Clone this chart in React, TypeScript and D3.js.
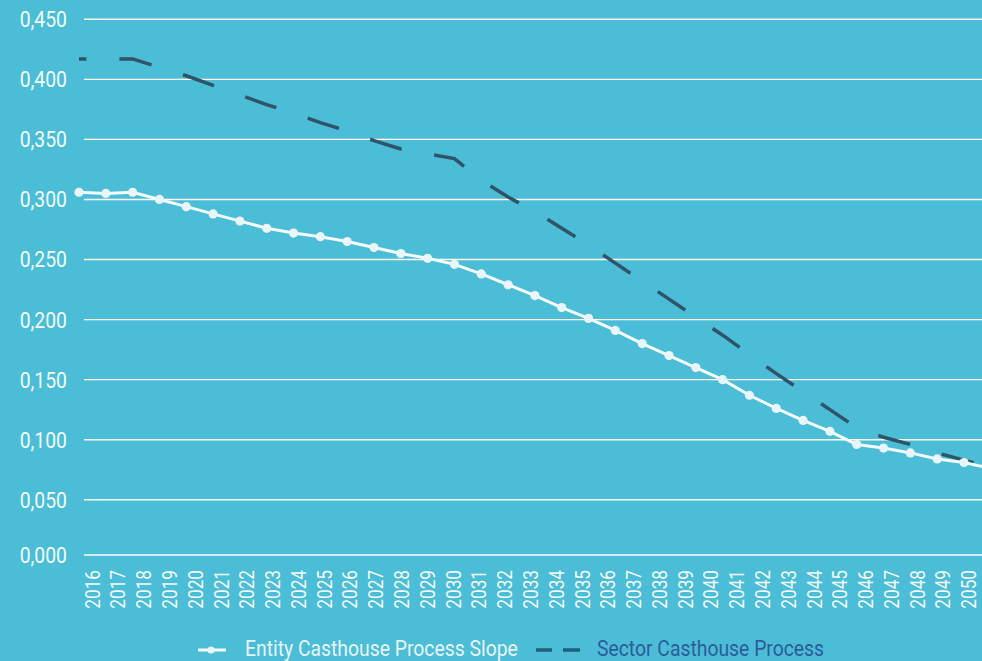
import React from "react";
import * as d3 from "d3";

const years: number[] = d3.range(2016, 2051);
const entityValues: number[] = [
  0.306, 0.305, 0.306, 0.3, 0.294, 0.288, 0.282, 0.276, 0.272, 0.269,
  0.265, 0.26, 0.255, 0.251, 0.246, 0.238, 0.229, 0.22, 0.21, 0.201,
  0.191, 0.18, 0.17, 0.16, 0.15, 0.137, 0.126, 0.116, 0.107, 0.096,
  0.093, 0.089, 0.084, 0.081, 0.076,
];
const sectorValues: number[] = [
  0.417, 0.417, 0.417, 0.41, 0.403, 0.395, 0.387, 0.379, 0.372, 0.364,
  0.357, 0.349, 0.342, 0.338, 0.334, 0.316, 0.302, 0.29, 0.276, 0.262,
  0.247, 0.232, 0.217, 0.202, 0.187, 0.171, 0.155, 0.14, 0.125, 0.11,
  0.102, 0.096, 0.089, 0.083, 0.077,
];
const yTicks: number[] = [0.05, 0.1, 0.15, 0.2, 0.25, 0.3, 0.35, 0.4, 0.45];
const seriesNames: string[] = ["Entity Casthouse Process Slope", "Sector Casthouse Process"];

const W = 982;
const H = 661;
const BG = "#4bbdd7";
const FONT = "Roboto, 'DejaVu Sans', sans-serif";

export default function App() {
  const x = d3.scaleLinear().domain([2016, 2049]).range([79, 964]);
  const xLab = d3.scaleLinear().domain([2016, 2050]).range([92.5, 969]);
  const y = d3.scaleLinear().domain([0, 0.45]).range([559.8, 19.3]);
  const axisY = 555;
  const gridX0 = 84;

  const line = d3
    .line<number>()
    .x((_, i) => x(years[i]))
    .y((d) => y(d))
    .curve(d3.curveLinear);

  const fmt = (v: number) => d3.format(".3f")(v).replace(".", ",");
  const tickColor = "#f2fafc";
  const legendY = 648.5;

  return (
    <svg
      width={W}
      height={H}
      style={{ position: "absolute", left: 0, top: 0, display: "block" }}
      fontFamily={FONT}
    >
      <rect x={0} y={0} width={W} height={H} fill={BG} />
      {/* gridlines */}
      {yTicks.map((t) => (
        <line key={t} x1={gridX0} x2={W} y1={y(t)} y2={y(t)} stroke="#ffffff" strokeWidth={1.4} />
      ))}
      <line x1={gridX0} x2={W} y1={axisY} y2={axisY} stroke="#ffffff" strokeWidth={1.4} />
      {/* y tick labels */}
      {[...yTicks.map((t) => [t, y(t)]), [0, axisY]].map(([t, py]) => (
        <text
          key={t}
          transform={`translate(67,${py}) scale(0.88,1)`}
          dy="0.36em"
          textAnchor="end"
          fontSize={22}
          fill={tickColor}
        >
          {fmt(t)}
        </text>
      ))}
      {/* x labels */}
      {years.map((yr) => (
        <text
          key={yr}
          transform={`translate(${xLab(yr)},${570}) rotate(-90) scale(0.86,1)`}
          dy="0.36em"
          textAnchor="end"
          fontSize={20}
          fill={tickColor}
        >
          {yr}
        </text>
      ))}
      {/* sector dashed */}
      <path
        d={line(sectorValues) || ""}
        fill="none"
        stroke="#2f5368"
        strokeWidth={3.5}
        strokeDasharray="33,33"
        strokeDashoffset={25.6}
      />
      {/* entity line */}
      <path d={line(entityValues) || ""} fill="none" stroke="#f4fbfd" strokeWidth={3} />
      {entityValues.map((v, i) => (
        <circle key={i} cx={x(years[i])} cy={y(v)} r={4.6} fill="#e8f5fa" />
      ))}
      {/* legend */}
      <line x1={198} x2={226} y1={650} y2={650} stroke="#f4fbfd" strokeWidth={3} />
      <circle cx={211} cy={650} r={3.6} fill="#e8f5fa" />
      <text transform={`translate(245,${legendY}) scale(0.9,1)`} dy="0.36em" fontSize={21.5} fill="#e6f4f8">
        {seriesNames[0]}
      </text>
      <line x1={536} x2={552} y1={650} y2={650} stroke="#1f5e7d" strokeWidth={3.5} />
      <line x1={563} x2={580} y1={650} y2={650} stroke="#1f5e7d" strokeWidth={3.5} />
      <text transform={`translate(597,${legendY}) scale(0.9,1)`} dy="0.36em" fontSize={21.5} fill="#2b5c9c">
        {seriesNames[1]}
      </text>
    </svg>
  );
}
